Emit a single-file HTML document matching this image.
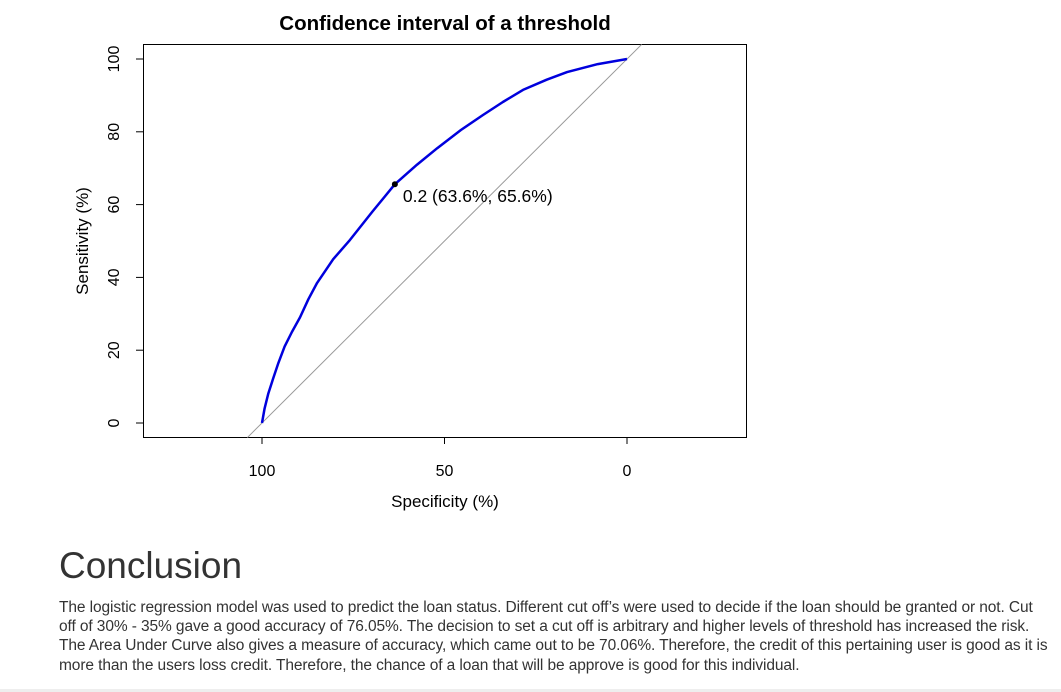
<!DOCTYPE html>
<html><head><meta charset="utf-8"><style>
body{margin:0;width:1061px;height:692px;overflow:hidden;background:#fff;font-family:"Liberation Sans",sans-serif;position:relative}
#chart{position:absolute;left:0;top:0}
h2{position:absolute;left:59px;top:543px;margin:0;font-weight:normal;font-size:37px;color:#333;line-height:46px}
p{position:absolute;left:59px;top:598px;width:992px;margin:0;font-size:15.5px;line-height:19.2px;color:#333;letter-spacing:-0.1px}
#bottom{position:absolute;left:0;top:689px;width:1061px;height:3px;background:#eee}
</style></head><body>
<svg id="chart" width="1061" height="530" font-family="Liberation Sans, sans-serif"></svg>
<h2>Conclusion</h2>
<p>The logistic regression model was used to predict the loan status. Different cut off’s were used to decide if the loan should be granted or not. Cut off of 30% - 35% gave a good accuracy of 76.05%. The decision to set a cut off is arbitrary and higher levels of threshold has increased the risk. The Area Under Curve also gives a measure of accuracy, which came out to be 70.06%. Therefore, the credit of this pertaining user is good as it is more than the users loss credit. Therefore, the chance of a loan that will be approve is good for this individual.</p>
<div id="bottom"></div>
<script>
const specificity=[100,99.3,98.3,97,95.5,93.8,91.8,89.6,87.3,84.9,80.5,75.9,69.8,63.6,57.5,52,45.5,39.5,34,28.5,22,16.4,8,0];
const sensitivity=[0,4,8,12,16.5,21,25,29,34,38.5,45,50.3,58,65.6,71,75.5,80.5,84.6,88.2,91.5,94.3,96.4,98.6,100];
const xTicks=[100,50,0];
const yTicks=[0,20,40,60,80,100];
const threshold=[63.6,65.6];
const thresholdLabel="0.2 (63.6%, 65.6%)";
const svg=document.getElementById('chart');
const NS='http://www.w3.org/2000/svg';
const X=v=>627-(v)*3.65;
const Y=v=>423-(v)*3.64;
function mk(t,a,txt){const e=document.createElementNS(NS,t);for(const k in a)e.setAttribute(k,a[k]);if(txt!=null)e.textContent=txt;svg.appendChild(e);return e;}
let e;
e=mk('text',{x:445,y:30,'text-anchor':'middle','font-size':20.5,'font-weight':'bold'},'Confidence interval of a threshold');

e=mk('rect',{x:143.5,y:44.5,width:603,height:393,fill:'none',stroke:'#000'});

e=mk('line',{x1:X(104),y1:Y(-4),x2:X(-4),y2:Y(104),stroke:'#999','stroke-width':1});

e=mk('line',{x1:X(100),y1:437.5,x2:X(0),y2:437.5,stroke:'#000'});

xTicks.forEach(v=>{e=mk('line',{x1:X(v),y1:437,x2:X(v),y2:444,stroke:'#000'});

e=mk('text',{x:X(v),y:476,'text-anchor':'middle','font-size':16},v);
});
e=mk('line',{x1:143.5,y1:Y(0),x2:143.5,y2:Y(100),stroke:'#000'});

yTicks.forEach(v=>{e=mk('line',{x1:136,y1:Y(v),x2:143,y2:Y(v),stroke:'#000'});

e=mk('text',{x:0,y:0,'text-anchor':'middle','font-size':16,transform:`translate(119,${Y(v)}) rotate(-90)`},v);
});
e=mk('text',{x:445,y:507,'text-anchor':'middle','font-size':17},'Specificity (%)');

e=mk('text',{x:0,y:0,'text-anchor':'middle','font-size':17,transform:'translate(88,241) rotate(-90)'},'Sensitivity (%)');

const pts=specificity.map((s,i)=>X(s).toFixed(1)+','+Y(sensitivity[i]).toFixed(1)).join(' ');
e=mk('polyline',{points:pts,fill:'none',stroke:'#0000dd','stroke-width':2.5,'stroke-linejoin':'round'});

e=mk('circle',{cx:X(threshold[0]),cy:Y(threshold[1]),r:3,fill:'#000'});

e=mk('text',{x:X(threshold[0])+8,y:Y(threshold[1])+18,'font-size':17.5},thresholdLabel);

</script>
</body></html>
